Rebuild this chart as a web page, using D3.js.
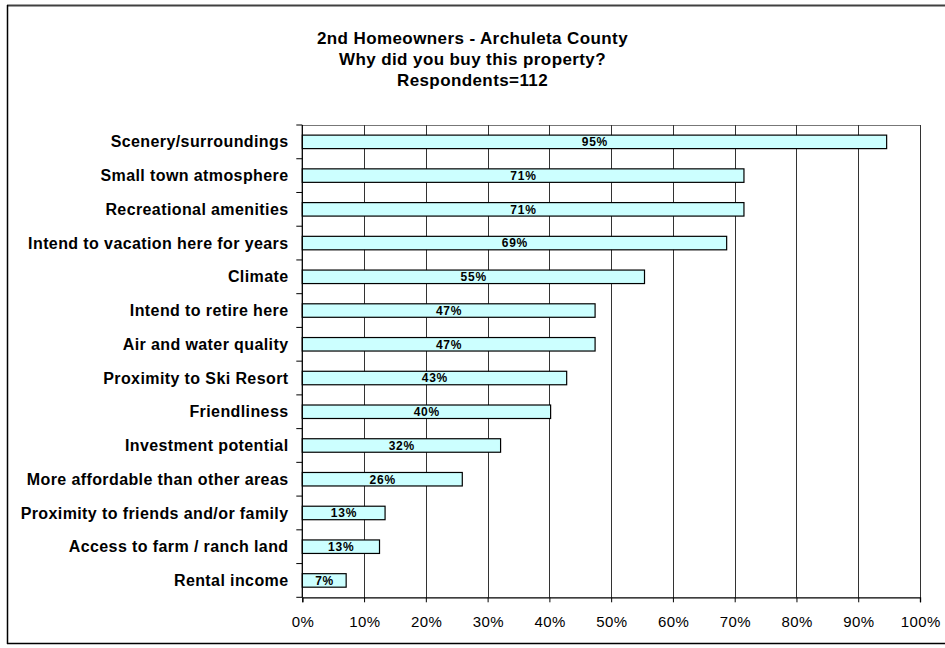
<!DOCTYPE html>
<html>
<head>
<meta charset="utf-8">
<script src="https://cdn.jsdelivr.net/npm/d3@7"></script>
<style>
  html, body { margin: 0; padding: 0; background: #fff; }
  svg { display: block; font-family: Arial, "Liberation Sans", sans-serif; }
</style>
</head>
<body>
<svg id="chart" width="945" height="648"></svg>
<script>
const categories = [
  "Scenery/surroundings",
  "Small town atmosphere",
  "Recreational amenities",
  "Intend to vacation here for years",
  "Climate",
  "Intend to retire here",
  "Air and water quality",
  "Proximity to Ski Resort",
  "Friendliness",
  "Investment potential",
  "More affordable than other areas",
  "Proximity to friends and/or family",
  "Access to farm / ranch land",
  "Rental income"
];
const values = [0.946, 0.715, 0.715, 0.687, 0.554, 0.474, 0.474, 0.428, 0.402, 0.321, 0.259, 0.134, 0.125, 0.071];
const valueLabels = ["95%", "71%", "71%", "69%", "55%", "47%", "47%", "43%", "40%", "32%", "26%", "13%", "13%", "7%"];
const xTicks = [0, 0.1, 0.2, 0.3, 0.4, 0.5, 0.6, 0.7, 0.8, 0.9, 1.0];
const titleLines = ["2nd Homeowners - Archuleta County", "Why did you buy this property?", "Respondents=112"];

(function () {
const svg = d3.select("#chart");

// outer frame
svg.append("line").attr("x1", 7).attr("x2", 945).attr("y1", 5.5).attr("y2", 5.5)
  .attr("stroke", "#404040").attr("stroke-width", 2);
svg.append("line").attr("x1", 7.5).attr("x2", 7.5).attr("y1", 5).attr("y2", 644)
  .attr("stroke", "#000").attr("stroke-width", 1.5);
svg.append("line").attr("x1", 7).attr("x2", 945).attr("y1", 643.5).attr("y2", 643.5)
  .attr("stroke", "#000").attr("stroke-width", 1.5);

const pLeft = 302.3, pRight = 920, pTop = 125, pBottom = 597.3;

const x = d3.scaleLinear().domain([0, 1]).range([pLeft, pRight]);
const y = d3.scaleBand().domain(categories).range([pTop, pBottom])
  .paddingInner(0.6).paddingOuter(0.3);

// title
svg.append("g").selectAll("text").data(titleLines).join("text")
  .attr("x", 472.5).attr("y", (d, i) => 44 + i * 21)
  .attr("text-anchor", "middle")
  .attr("font-size", 17).attr("font-weight", "bold").attr("fill", "#000")
  .attr("letter-spacing", 0.4)
  .text(d => d);

// plot frame top
svg.append("line").attr("x1", pLeft).attr("x2", pRight).attr("y1", pTop + 0.5).attr("y2", pTop + 0.5)
  .attr("stroke", "#777").attr("stroke-width", 1);

// gridlines
svg.append("g").selectAll("line").data(xTicks.slice(1)).join("line")
  .attr("x1", d => Math.round(x(d)) + 0.5).attr("x2", d => Math.round(x(d)) + 0.5)
  .attr("y1", pTop).attr("y2", pBottom)
  .attr("stroke", "#333").attr("stroke-width", 1);

// bars
svg.append("g").selectAll("rect").data(values).join("rect")
  .attr("x", x(0))
  .attr("y", (d, i) => y(categories[i]))
  .attr("width", d => x(d) - x(0))
  .attr("height", y.bandwidth())
  .attr("fill", "#CCFFFF")
  .attr("stroke", "#000").attr("stroke-width", 1.2);

// value labels
svg.append("g").selectAll("text").data(values).join("text")
  .attr("x", d => (x(0) + x(d)) / 2 + 0.4)
  .attr("y", (d, i) => y(categories[i]) + y.bandwidth() / 2 + 4.3)
  .attr("text-anchor", "middle")
  .attr("font-size", 12).attr("font-weight", "bold").attr("fill", "#000")
  .attr("letter-spacing", 0.8)
  .text((d, i) => valueLabels[i]);

// x axis
const xAxis = d3.axisBottom(x).tickValues(xTicks).tickFormat(d3.format(".0%"))
  .tickSize(5).tickPadding(14);
const gx = svg.append("g").attr("transform", `translate(0,${pBottom})`).call(xAxis);
gx.select(".domain").attr("stroke", "#000").attr("stroke-width", 1.3);
gx.selectAll(".tick line").attr("stroke", "#000");
gx.selectAll("text").attr("font-size", 15).attr("fill", "#000")
  .attr("letter-spacing", 0.4).attr("dx", 0.2)
  .attr("font-family", "Arial, 'Liberation Sans', sans-serif");

// y axis line and ticks at band boundaries
svg.append("line").attr("x1", pLeft).attr("x2", pLeft).attr("y1", pTop).attr("y2", pBottom)
  .attr("stroke", "#000").attr("stroke-width", 1.3);
const b0 = pTop + y.step() * y.paddingOuter() - y.step() * y.paddingInner() / 2;
svg.append("g").selectAll("line").data(d3.range(categories.length + 1)).join("line")
  .attr("x1", pLeft - 6).attr("x2", pLeft)
  .attr("y1", i => b0 + i * y.step())
  .attr("y2", i => b0 + i * y.step())
  .attr("stroke", "#000").attr("stroke-width", 1);

// category labels
svg.append("g").selectAll("text").data(categories).join("text")
  .attr("x", 288.5)
  .attr("y", d => y(d) + y.bandwidth() / 2 + 5.6)
  .attr("text-anchor", "end")
  .attr("font-size", 16).attr("font-weight", "bold").attr("fill", "#000")
  .attr("letter-spacing", 0.4)
  .text(d => d);
})();
</script>
</body>
</html>
